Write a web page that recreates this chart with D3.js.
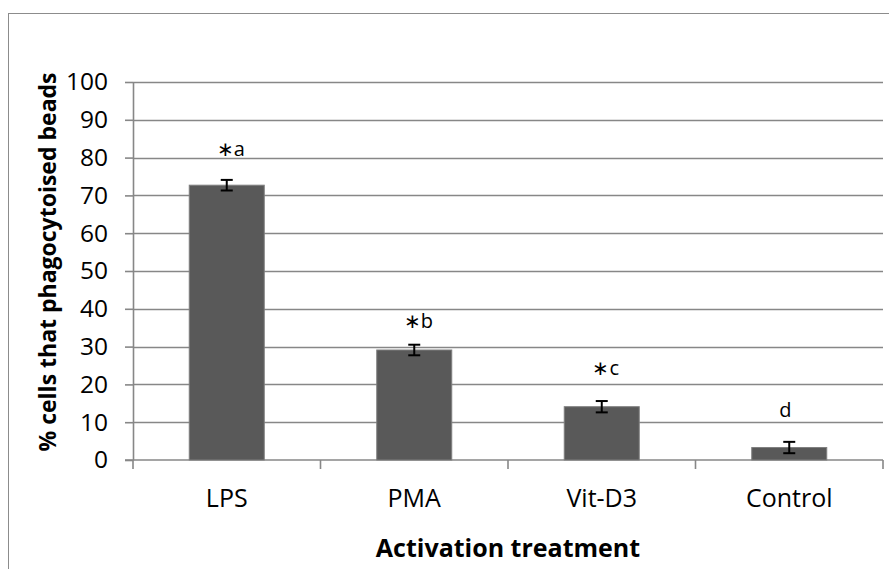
<!DOCTYPE html>
<html>
<head>
<meta charset="utf-8">
<script src="https://cdn.jsdelivr.net/npm/d3@7"></script>
<style>
  body { margin: 0; background: #fff; }
  svg { display: block; font-family: "Open Sans", sans-serif; }
</style>
</head>
<body>
<div id="chart"></div>
<script>
// values
var categories = ["LPS", "PMA", "Vit-D3", "Control"]
var means = [72.7, 29.1, 14.1, 3.3]
var errors = [1.4, 1.4, 1.5, 1.5]
var letters = ["\u2217a", "\u2217b", "\u2217c", "d"]
var letterHeights = [82.3, 36.9, 24.3, 13.2]   // where the letters sit, in % units
var yTicks = [0, 10, 20, 30, 40, 50, 60, 70, 80, 90, 100]

var width = 889, height = 569
var margin = {left: 133, right: 6, top: 82, bottom: 109}

var svg = d3.select("#chart").append("svg")
  .attr("width", width)
  .attr("height", height)

// chart frame
svg.append("rect")
  .attr("x", 8.5).attr("y", 13.5)
  .attr("width", 900).attr("height", 600)
  .attr("fill", "none").attr("stroke", "#8c8c8c")

var x = d3.scaleBand()
  .domain(categories)
  .range([margin.left, width - margin.right])
  .paddingInner(0.6).paddingOuter(0.3)

var y = d3.scaleLinear()
  .domain([0, 100])
  .range([height - margin.bottom, margin.top])

var gridColor = "#878787"

// gridlines
svg.append("g").selectAll("line")
  .data(yTicks.slice(1))
  .enter().append("line")
    .attr("x1", margin.left).attr("x2", width - margin.right)
    .attr("y1", function(d){ return Math.round(y(d)) + 0.5 })
    .attr("y2", function(d){ return Math.round(y(d)) + 0.5 })
    .attr("stroke", gridColor).attr("stroke-width", 1.6)

// y axis
var yAxis = svg.append("g")
  .attr("transform", "translate(" + margin.left + ",0)")
  .call(d3.axisLeft(y).tickValues(yTicks).tickSize(8).tickSizeOuter(0).tickPadding(17))
yAxis.selectAll("line, path").attr("stroke", gridColor).attr("stroke-width", 1.6)
yAxis.selectAll("text").attr("font-size", 24.5).attr("fill", "#000")
  .attr("font-family", "Open Sans")

// x axis: ticks sit between categories
var bounds = d3.range(categories.length + 1).map(function(i){ return margin.left + i * (width - margin.right - margin.left) / categories.length })

svg.append("line")
  .attr("x1", margin.left - 8).attr("x2", width - margin.right)
  .attr("y1", y(0)).attr("y2", y(0))
  .attr("stroke", gridColor).attr("stroke-width", 1.6)

svg.append("g").selectAll("line")
  .data(bounds)
  .enter().append("line")
    .attr("x1", function(d){ return d }).attr("x2", function(d){ return d })
    .attr("y1", y(0)).attr("y2", y(0) + 9)
    .attr("stroke", gridColor).attr("stroke-width", 1.6)

svg.append("g").selectAll("text")
  .data(categories)
  .enter().append("text")
    .attr("x", function(d){ return x(d) + x.bandwidth() / 2 })
    .attr("y", y(0) + 47)
    .attr("text-anchor", "middle")
    .attr("font-size", 25)
    .text(function(d){ return d })

// bars
svg.append("g").selectAll("rect")
  .data(means)
  .enter().append("rect")
    .attr("x", function(d, i){ return x(categories[i]) })
    .attr("y", function(d){ return y(d) })
    .attr("width", x.bandwidth())
    .attr("height", function(d){ return y(0) - y(d) })
    .attr("fill", "#595959")
    .attr("stroke", "#7f7f7f").attr("stroke-width", 1)

// error bars
var err = svg.append("g").attr("stroke", "#000").attr("stroke-width", 2)
means.forEach(function(m, i){
  var cx = x(categories[i]) + x.bandwidth() / 2
  var top = y(m + errors[i]), bot = y(m - errors[i])
  err.append("line").attr("x1", cx).attr("x2", cx).attr("y1", top).attr("y2", bot)
  err.append("line").attr("x1", cx - 6).attr("x2", cx + 6).attr("y1", top).attr("y2", top)
  err.append("line").attr("x1", cx - 6).attr("x2", cx + 6).attr("y1", bot).attr("y2", bot)
})

// significance letters
svg.append("g").selectAll("text")
  .data(letters)
  .enter().append("text")
    .attr("x", function(d, i){ return x(categories[i]) + x.bandwidth() / 2 + (i < 3 ? 4 : -4) })
    .attr("y", function(d, i){ return y(letterHeights[i]) })
    .attr("dy", "0.35em")
    .attr("text-anchor", "middle")
    .attr("font-size", 20)
    .text(function(d){ return d })

// axis titles
svg.append("text")
  .attr("x", (margin.left + width - margin.right) / 2)
  .attr("y", 557)
  .attr("text-anchor", "middle")
  .attr("font-size", 25).attr("font-weight", "bold")
  .text("Activation treatment")

svg.append("text")
  .attr("transform", "translate(56,262) rotate(-90)")
  .attr("text-anchor", "middle")
  .attr("font-size", 23).attr("font-weight", "bold")
  .text("% cells that phagocytoised beads")
</script>
</body>
</html>
